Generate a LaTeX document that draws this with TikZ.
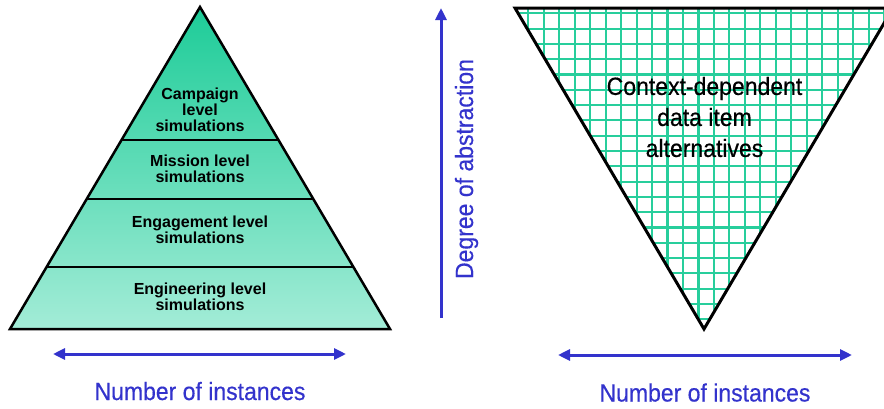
\documentclass[tikz,border=0pt]{standalone}
\usepackage{fontspec}
\setmainfont{Liberation Sans}
\newfontfamily\narrowsf{Liberation Sans}[FakeStretch=0.92,FakeBold=0.4]
\usetikzlibrary{arrows.meta,calc}
\definecolor{pyrtop}{RGB}{29,204,152}
\definecolor{pyrbottom}{RGB}{163,236,215}
\definecolor{gridgreen}{RGB}{40,206,156}
\definecolor{axisblue}{RGB}{51,51,204}

\begin{document}
\begin{tikzpicture}[x=1pt, y=-1pt, >={Triangle[length=12pt,width=11pt]},
  layer/.style={align=center, inner sep=0pt, font=\bfseries\fontsize{16}{16}\selectfont},
  context/.style={align=center, inner sep=0pt, font=\narrowsf\fontsize{25}{31}\selectfont},
  axis/.style={draw=axisblue, line width=3pt},
  axislabel/.style={text=axisblue, inner sep=0pt, font=\narrowsf\fontsize{25}{25}\selectfont},
  gridline/.style={draw=gridgreen, line width=2.1pt}]
\useasboundingbox (0,0) rectangle (884,408);
% ---------------- pyramid of simulation levels
\coordinate (apex) at (200,7);
\coordinate (bl) at (10,329);
\coordinate (br) at (390,329);
\shade[top color=pyrtop, bottom color=pyrbottom] (apex) -- (br) -- (bl) -- cycle;
\foreach \f in {0.413,0.596,0.807}
  \draw[line width=2.5pt] ($(apex)!\f!(bl)$) -- ($(apex)!\f!(br)$);
\draw[line width=2.5pt, line join=miter] (apex) -- (br) -- (bl) -- cycle;
\node[layer] (camp) at (200,110) {Campaign\\ level\\ simulations};
\node[layer] (miss) at (200,169) {Mission level\\ simulations};
\node[layer] (enga) at (200,230) {Engagement level\\ simulations};
\node[layer] (engi) at (200,296.5) {Engineering level\\ simulations};
% ---------------- inverted triangle of alternatives
\coordinate (tl) at (515,8);
\coordinate (tr) at (893,8);
\coordinate (tip) at (704,329);
\begin{scope}
  \clip (tl) -- (tr) -- (tip) -- cycle;
  \foreach \k in {-1,...,24}
    \draw[gridline] (528.3+\k*15.47,0) -- (528.3+\k*15.47,340);
  \foreach \k in {-1,...,22}
    \draw[gridline] (500,13.3+\k*15.3) -- (900,13.3+\k*15.3);
\end{scope}
\draw[line width=3pt, line join=miter] (tl) -- (tr) -- (tip) -- cycle;
\node[context] (alt) at (704.5,117) {Context-dependent\\ data item\\ alternatives};
% ---------------- axes
\coordinate (vbot) at (441,318);
\coordinate (vtop) at (441,8);
\draw[axis, ->] (vbot) -- (vtop);
\node[axislabel, rotate=90, anchor=base] (abstr) at (473,169) {Degree of abstraction};
\coordinate (la) at (53,354);
\coordinate (lb) at (346,354);
\draw[axis, <->] (la) -- (lb);
\node[axislabel, anchor=base] (numl) at (200,400) {Number of instances};
\coordinate (ra) at (558,355);
\coordinate (rb) at (852,355);
\draw[axis, <->] (ra) -- (rb);
\node[axislabel, anchor=base] (numr) at (705,401.5) {Number of instances};
\end{tikzpicture}
\end{document}
